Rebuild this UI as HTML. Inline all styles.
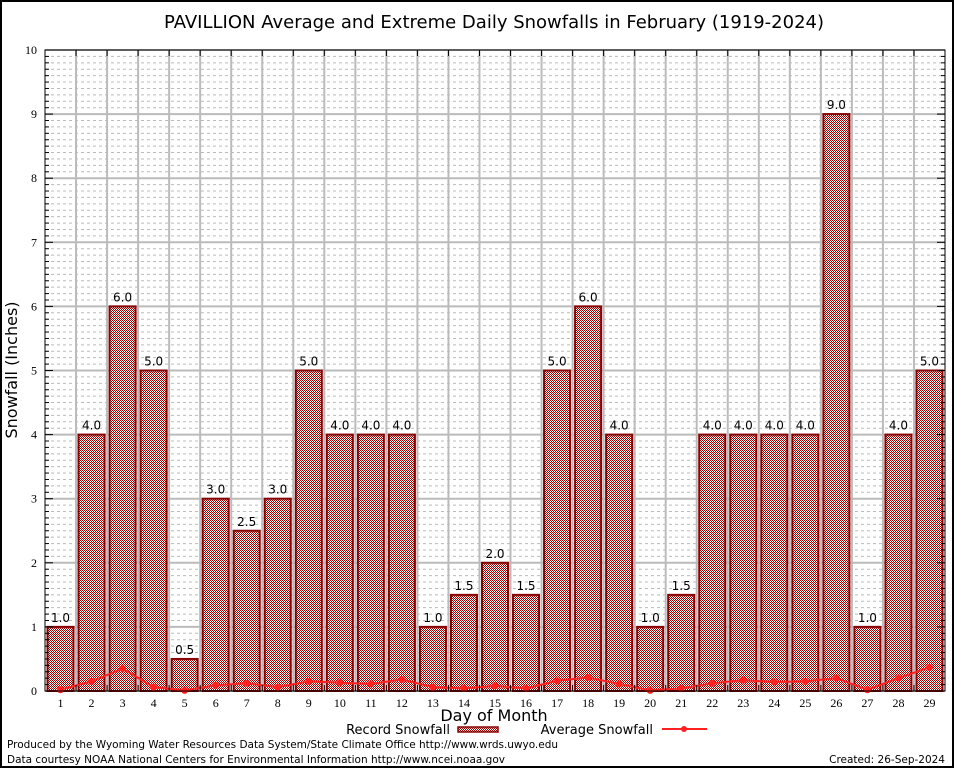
<!DOCTYPE html>
<html><head><meta charset="utf-8"><style>
html,body{margin:0;padding:0;background:#fff;}
svg{display:block;font-family:"DejaVu Sans","Liberation Sans",sans-serif;}
</style></head><body>
<svg id="chart" width="954" height="768" viewBox="0 0 954 768" xmlns="http://www.w3.org/2000/svg">
<defs>
<pattern id="chk" width="2" height="2" patternUnits="userSpaceOnUse">
<rect width="2" height="2" fill="#fff"/>
<rect width="1" height="1" fill="#a00000"/>
<rect x="1" y="1" width="1" height="1" fill="#a00000"/>
</pattern>
</defs>
<rect x="1" y="1" width="952" height="766" fill="#fff" stroke="#000" stroke-width="2"/>
<text x="494" y="28" text-anchor="middle" font-size="18">PAVILLION Average and Extreme Daily Snowfalls in February (1919-2024)</text>
<g id="grid"></g>
<g id="bars"></g>
<g id="avg"></g>
<g id="axes"></g>
<text x="17" y="370" text-anchor="middle" font-size="16" transform="rotate(-90 17 370)">Snowfall (Inches)</text>
<text x="494" y="721" text-anchor="middle" font-size="16">Day of Month</text>
<g>
<text x="450" y="734" text-anchor="end" font-size="13">Record Snowfall</text>
<rect x="458" y="727" width="40" height="5" fill="url(#chk)" stroke="#8b0000" stroke-width="1.5"/>
<text x="653" y="734" text-anchor="end" font-size="13">Average Snowfall</text>
<line x1="662" y1="729" x2="707" y2="729" stroke="#ff2020" stroke-width="2"/>
<circle cx="684" cy="729" r="3" fill="#ff2020"/>
</g>
<text x="7" y="748" font-size="10.5" textLength="551">Produced by the Wyoming Water Resources Data System/State Climate Office http://www.wrds.uwyo.edu</text>
<text x="7" y="763" font-size="10.5" textLength="498">Data courtesy NOAA National Centers for Environmental Information http://www.ncei.noaa.gov</text>
<text x="945" y="763" text-anchor="end" font-size="10.5">Created: 26-Sep-2024</text>
</svg>
<script>
const days = [1,2,3,4,5,6,7,8,9,10,11,12,13,14,15,16,17,18,19,20,21,22,23,24,25,26,27,28,29];
const recordValues = [1.0,4.0,6.0,5.0,0.5,3.0,2.5,3.0,5.0,4.0,4.0,4.0,1.0,1.5,2.0,1.5,5.0,6.0,4.0,1.0,1.5,4.0,4.0,4.0,4.0,9.0,1.0,4.0,5.0];
const averageValues = [0.02,0.15,0.35,0.06,0.01,0.09,0.12,0.06,0.15,0.13,0.11,0.18,0.06,0.04,0.08,0.04,0.16,0.21,0.11,0.01,0.04,0.12,0.17,0.14,0.15,0.20,0.02,0.20,0.37];
const yTicks = [0,1,2,3,4,5,6,7,8,9,10];

const NS = "http://www.w3.org/2000/svg";
const L = 45, R = 945, T = 50, B = 691, YMAX = 10;
const step = (R - L) / days.length;
function xs(d){ return L + (d - 0.5) * step; }
function ys(v){ return B - v / YMAX * (B - T); }
function mk(tag, attrs, parent){ const e = document.createElementNS(NS, tag); for (const k in attrs) e.setAttribute(k, attrs[k]); parent.appendChild(e); return e; }

const grid = document.getElementById('grid');
for (let i = 1; i < YMAX * 10; i++) {
  if (i % 10 === 0) continue;
  const l = mk('line', {x1:L, x2:R, y1:ys(i/10), y2:ys(i/10), stroke:'#bbb', 'stroke-width':1, 'stroke-dasharray':'3,3'}, grid);
  
  
}
yTicks.forEach(v => {
  const l = mk('line', {x1:L, x2:R, y1:ys(v), y2:ys(v), stroke:'#bbb', 'stroke-width':2}, grid);
  
  
});
for (let k = 1; k < days.length; k++) {
  const x = L + k * step;
  const l = mk('line', {x1:x, x2:x, y1:T, y2:B, stroke:'#bbb', 'stroke-width':2}, grid);
  
  
}

const bars = document.getElementById('bars');
days.forEach((d, i) => {
  const v = recordValues[i];
  const bw = 26;
  const r = mk('rect', {x:xs(d)-bw/2, y:ys(v), width:bw, height:B-ys(v), fill:'url(#chk)', stroke:'#8b0000', 'stroke-width':2}, bars);
  
  
  const t = mk('text', {x:xs(d), y:ys(v)-5, 'text-anchor':'middle', 'font-size':12}, bars);
  t.textContent = v.toFixed(1);
  
  
});

const avg = document.getElementById('avg');
const pts = days.map((d, i) => xs(d) + ',' + ys(averageValues[i])).join(' ');
const pl = mk('polyline', {points:pts, fill:'none', stroke:'#ff2020', 'stroke-width':2}, avg);


days.forEach((d, i) => {
  const c = mk('circle', {cx:xs(d), cy:ys(averageValues[i]), r:3.5, fill:'#ff2020'}, avg);
  
  
});

const axes = document.getElementById('axes');
const frame = mk('rect', {x:L, y:T, width:R-L, height:B-T, fill:'none', stroke:'#000', 'stroke-width':1}, axes);


for (let i = 0; i <= YMAX * 10; i++) {
  const len = i % 10 === 0 ? 8 : 4;
  const t = mk('line', {x1:L, x2:L+len, y1:ys(i/10), y2:ys(i/10), stroke:'#000', 'stroke-width':1}, axes);
  
  
  const t2 = mk('line', {x1:R, x2:R-len, y1:ys(i/10), y2:ys(i/10), stroke:'#000', 'stroke-width':1}, axes);
  
  
}
yTicks.forEach(v => {
  const t = mk('text', {x:L-8, y:ys(v)+4, 'text-anchor':'end', 'font-size':12, 'font-family':'"Liberation Serif", serif'}, axes);
  t.textContent = v;
  
  
});
for (let k = 1; k < days.length; k++) {
  const x = L + k * step;
  const a = mk('line', {x1:x, x2:x, y1:B, y2:B-6, stroke:'#000', 'stroke-width':1}, axes);
  
  
  const b = mk('line', {x1:x, x2:x, y1:T, y2:T+6, stroke:'#000', 'stroke-width':1}, axes);
  
  
}
days.forEach(d => {
  const t = mk('text', {x:xs(d), y:B+16, 'text-anchor':'middle', 'font-size':12, 'font-family':'"Liberation Serif", serif'}, axes);
  t.textContent = d;
  
  
});
</script>
</body></html>
